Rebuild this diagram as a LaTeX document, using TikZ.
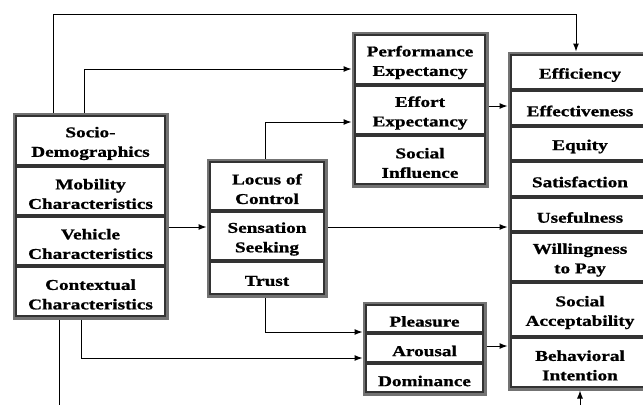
\documentclass[tikz,border=0pt]{standalone}
\usepackage{fontspec}
\setmainfont{Liberation Serif}[FakeStretch=1.28,BoldFeatures={FakeBold=1}]
\usetikzlibrary{arrows.meta,fit}
\newcommand\mycell[5]{%
  \node[cell,minimum width=#1,minimum height=#2] (#3) at #4 {};
  \node[celltext] (#3t) at ([yshift=-3pt]#3.center) {#5};}
\begin{document}
\begin{tikzpicture}[x=1pt,y=-1pt,
  cell/.style={draw=black!80,line width=1.2pt,fill=white,inner sep=0pt},
  celltext/.style={align=center,inner sep=0pt,
    font=\fontsize{15}{19.5}\selectfont\bfseries,text=black},
  grp/.style={draw=black!55,line width=2.6pt,inner sep=1.6pt},
  conn/.style={line width=1pt,black},
  arr/.style={conn,-{Latex[length=8pt,width=6pt]}}]
\useasboundingbox (0,0) rectangle (643,405);
% left group
\mycell{149pt}{49pt}{socio}{(90.5,140.5)}{Socio-\\Demographics}
\mycell{149pt}{48pt}{mob}{(90.5,191)}{Mobility\\Characteristics}
\mycell{149pt}{48pt}{veh}{(90.5,241)}{Vehicle\\Characteristics}
\mycell{149pt}{49pt}{ctx}{(90.5,291.5)}{Contextual\\Characteristics}
\node[grp,fit=(socio)(ctx)] (L) {};
% middle group
\mycell{114pt}{48pt}{loc}{(267,186)}{Locus of\\Control}
\mycell{114pt}{48pt}{sen}{(267,236)}{Sensation\\Seeking}
\mycell{114pt}{32pt}{tru}{(267,278)}{Trust}
\node[grp,fit=(loc)(tru)] (M) {};
% top group
\mycell{130pt}{49pt}{pe}{(420,59.5)}{Performance\\Expectancy}
\mycell{130pt}{48pt}{ee}{(420,110)}{Effort\\Expectancy}
\mycell{130pt}{48pt}{si}{(420,160)}{Social\\Influence}
\node[grp,fit=(pe)(si)] (T) {};
% bottom group
\mycell{117pt}{27pt}{ple}{(424.5,318.5)}{Pleasure}
\mycell{117pt}{28pt}{aro}{(424.5,348)}{Arousal}
\mycell{117pt}{28pt}{dom}{(424.5,378)}{Dominance}
\node[grp,fit=(ple)(dom)] (B) {};
% right group
\mycell{138pt}{34pt}{eff}{(580,72)}{Efficiency}
\mycell{138pt}{34pt}{efv}{(580,108)}{Effectiveness}
\mycell{138pt}{33pt}{equ}{(580,143.5)}{Equity}
\mycell{138pt}{34pt}{sat}{(580,179)}{Satisfaction}
\mycell{138pt}{33pt}{use}{(580,214.5)}{Usefulness}
\mycell{138pt}{48pt}{wil}{(580,257)}{Willingness\\to Pay}
\mycell{138pt}{53pt}{soc}{(580,309.5)}{Social\\Acceptability}
\mycell{138pt}{49pt}{beh}{(580,362.5)}{Behavioral\\Intention}
\node[grp,fit=(eff)(beh)] (R) {};
% bend points
\coordinate (b1) at (53,14);
\coordinate (b2) at (576,14);
\coordinate (b3) at (84,69);
\coordinate (b4) at (265,122);
\coordinate (b5) at (265,332);
\coordinate (b6) at (81,358);
\coordinate (b7) at (59,405);
\coordinate (b8) at (580,405);
\coordinate (y1) at (0,227);
\coordinate (y2) at (0,106);
\coordinate (y3) at (0,346);
% connectors
\draw[arr] (b1 |- L.north) -- (b1) -- (b2) -- (b2 |- R.north);
\draw[arr] (b3 |- L.north) -- (b3) -- (b3 -| T.west);
\draw[arr] (y1 -| L.east) -- (y1 -| M.west);
\draw[arr] (b4 |- M.north) -- (b4) -- (b4 -| T.west);
\draw[arr] (y1 -| M.east) -- (y1 -| R.west);
\draw[arr] (b5 |- M.south) -- (b5) -- (b5 -| B.west);
\draw[arr] (b6 |- L.south) -- (b6) -- (b6 -| B.west);
\draw[conn] (b7 |- L.south) -- (b7);
\draw[arr] (y2 -| T.east) -- (y2 -| R.west);
\draw[arr] (y3 -| B.east) -- (y3 -| R.west);
\draw[arr] (b8) -- (b8 |- R.south);
\end{tikzpicture}
\end{document}
